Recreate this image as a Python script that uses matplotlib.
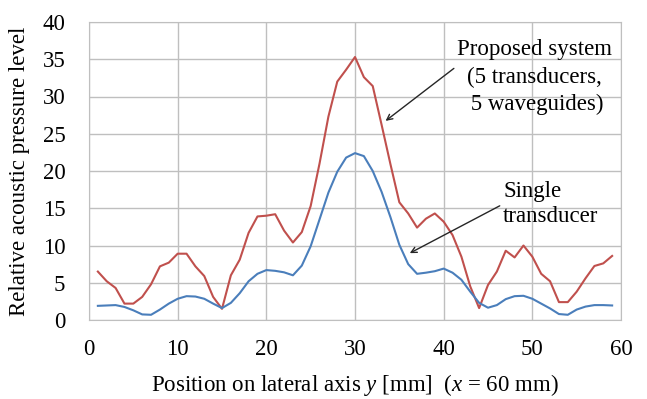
import numpy as np
import matplotlib
matplotlib.use("Agg")
import matplotlib.pyplot as plt

# lateral position y [mm]
pos = list(range(1, 60))

# proposed system (5 transducers, 5 waveguides)
proposed = [6.5, 5.2, 4.3, 2.2, 2.2, 3.1, 4.8, 7.2, 7.7, 8.9,
            8.9, 7.2, 5.9, 3.1, 1.5, 6.0, 8.1, 11.7, 13.9, 14.0,
            14.2, 12.0, 10.4, 11.8, 15.3, 21.0, 27.3, 32.0, 33.6, 35.3,
            32.6, 31.4, 26.2, 20.9, 15.8, 14.3, 12.4, 13.6, 14.3, 13.2,
            11.4, 8.5, 4.5, 1.6, 4.7, 6.5, 9.3, 8.4, 10.0, 8.5,
            6.2, 5.2, 2.4, 2.4, 3.8, 5.6, 7.25, 7.6, 8.6]

# single transducer
single = [1.9, 1.95, 2.0, 1.75, 1.3, 0.75, 0.7, 1.4, 2.2, 2.85,
          3.2, 3.15, 2.85, 2.2, 1.6, 2.3, 3.6, 5.2, 6.2, 6.7,
          6.6, 6.4, 6.0, 7.3, 9.9, 13.5, 17.1, 19.9, 21.8, 22.4,
          22.0, 20.0, 17.2, 13.8, 10.1, 7.5, 6.2, 6.35, 6.55, 6.9,
          6.35, 5.4, 3.8, 2.3, 1.65, 2.0, 2.8, 3.2, 3.25, 2.85,
          2.2, 1.55, 0.8, 0.7, 1.4, 1.8, 2.0, 2.0, 1.95]

xticks = [0, 10, 20, 30, 40, 50, 60]
yticks = [0, 5, 10, 15, 20, 25, 30, 35, 40]

plt.rcParams['font.family'] = ['Liberation Serif', 'DejaVu Serif']
plt.rcParams['mathtext.fontset'] = 'custom'
plt.rcParams['mathtext.rm'] = 'Liberation Serif'
plt.rcParams['mathtext.it'] = 'Liberation Serif:italic'

fs = 16.5

fig = plt.figure(figsize=(6.47, 3.99), dpi=100)
ax = fig.add_axes([89/647, 79/399, 532/647, 298/399])

ax.plot(pos, proposed, color='#C0504D', lw=1.5)
ax.plot(pos, single, color='#4A7EBB', lw=1.5)

ax.set_xlim(0, 60)
ax.set_ylim(0, 40)
ax.set_xticks(xticks)
ax.set_yticks(yticks)
ax.grid(True, color='#BFBFBF', lw=1)
ax.set_axisbelow(True)
for s in ax.spines.values():
    s.set_color('#BFBFBF')
ax.tick_params(length=0, labelsize=fs)
ax.tick_params(axis='y', pad=17)
ax.tick_params(axis='x', pad=14)

ax.set_ylabel('Relative acoustic pressure level', fontsize=fs, labelpad=9)
ax.set_xlabel('Position on lateral axis $y$ [mm]  ($x$ = 60 mm)', fontsize=fs, labelpad=8)

# annotations
ax.text(50.2, 32.6, 'Proposed system\n(5 transducers,\n 5 waveguides)', fontsize=fs,
        ha='center', va='center', multialignment='center', linespacing=1.38)
ax.annotate('', xy=(33.2, 26.5), xytext=(41.4, 34.0),
            arrowprops=dict(arrowstyle='->', color='#262626', lw=1))
ax.text(46.7, 15.6, 'Single\ntransducer', fontsize=fs,
        ha='left', va='center', multialignment='left', linespacing=1.25)
ax.annotate('', xy=(35.9, 8.8), xytext=(46.6, 15.5),
            arrowprops=dict(arrowstyle='->', color='#262626', lw=1))

fig.savefig('out.png', dpi=100)
